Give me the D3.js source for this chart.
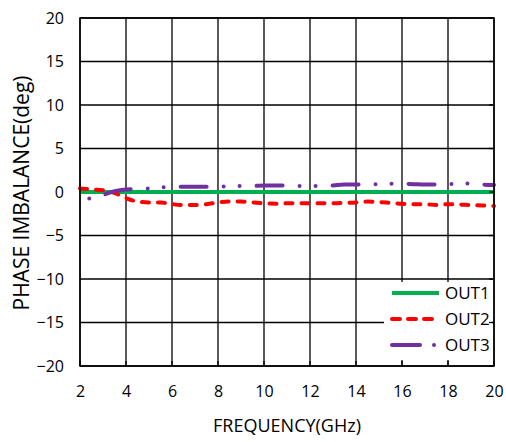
<!DOCTYPE html>
<html>
<head>
<meta charset="utf-8">
<script src="https://cdn.jsdelivr.net/npm/d3@7"></script>
<style>
	body { margin: 0; background: #fff; }
	text { font-family: 'Open Sans', 'Noto Sans', sans-serif; fill: #000; }
</style>
</head>
<body>
<div id="chart-area" style="width:506px;height:442px;"></div>
<script>
// frequency points (GHz)
const freq = [2, 2.5, 3, 3.5, 4, 4.5, 5, 5.5, 6, 6.5, 7, 7.5, 8, 8.5, 9, 9.5, 10, 10.5, 11, 11.5,
	12, 12.5, 13, 13.5, 14, 14.5, 15, 15.5, 16, 16.5, 17, 17.5, 18, 18.5, 19, 19.5, 20];

const out1 = [0, 0, 0, 0, 0, 0, 0, 0, 0, 0, 0, 0, 0, 0, 0, 0, 0, 0, 0, 0,
	0, 0, 0, 0, 0, 0, 0, 0, 0, 0, 0, 0, 0, 0, 0, 0, 0];

const out2 = [0.4, 0.3, 0.2, -0.1, -0.7, -1.1, -1.2, -1.2, -1.4, -1.5, -1.5, -1.4, -1.2, -1.1, -1.1, -1.2, -1.3, -1.35, -1.3, -1.3,
	-1.3, -1.3, -1.3, -1.25, -1.2, -1.1, -1.15, -1.25, -1.35, -1.4, -1.4, -1.5, -1.4, -1.45, -1.5, -1.55, -1.6];

const out3 = [0.3, -0.8, -0.35, 0.1, 0.3, 0.35, 0.4, 0.5, 0.6, 0.6, 0.6, 0.6, 0.6, 0.65, 0.7, 0.7, 0.75, 0.75, 0.75, 0.7,
	0.7, 0.7, 0.75, 0.85, 0.85, 0.85, 0.9, 0.95, 0.95, 0.9, 0.85, 0.85, 0.9, 1.0, 0.95, 0.85, 0.8];

const xTicks = [2, 4, 6, 8, 10, 12, 14, 16, 18, 20];
const yTicks = [-20, -15, -10, -5, 0, 5, 10, 15, 20];

const seriesNames = ['OUT1', 'OUT2', 'OUT3'];

const margin = { top: 18, right: 12, bottom: 76, left: 80 };
const width = 506 - margin.left - margin.right;
const height = 442 - margin.top - margin.bottom;

const svg = d3.select('#chart-area')
	.append('svg')
	.attr('width', 506)
	.attr('height', 442);

const g = svg.append('g')
	.attr('transform', `translate(${margin.left}, ${margin.top})`);

// Scales
const x = d3.scaleLinear().domain([2, 20]).range([0, width]);
const y = d3.scaleLinear().domain([-20, 20]).range([height, 0]);

// grid
g.append('g')
	.selectAll('line.vg')
	.data(xTicks)
	.enter().append('line')
	.attr('x1', d => x(d)).attr('x2', d => x(d))
	.attr('y1', 0).attr('y2', height)
	.attr('stroke', '#000').attr('stroke-width', 1.3);

g.append('g')
	.selectAll('line.hg')
	.data(yTicks)
	.enter().append('line')
	.attr('x1', 0).attr('x2', width)
	.attr('y1', d => y(d)).attr('y2', d => y(d))
	.attr('stroke', '#000').attr('stroke-width', 1.3);

// axes (labels only)
const bottomAxis = d3.axisBottom(x).tickValues(xTicks).tickSize(0).tickPadding(20);
g.append('g')
	.attr('transform', `translate(0, ${height})`)
	.call(bottomAxis)
	.call(a => a.select('.domain').remove())
	.selectAll('text')
	.style('font-size', '16px');

const leftAxis = d3.axisLeft(y).tickValues(yTicks).tickSize(0).tickPadding(16);
g.append('g')
	.call(leftAxis)
	.call(a => a.select('.domain').remove())
	.selectAll('text')
	.style('font-size', '16px');

// lines
const data = seriesNames.map((name, i) => ({
	name: name,
	values: freq.map((f, j) => ({ f: f, v: [out1, out2, out3][i][j] }))
}));

const line = d3.line()
	.x(d => x(d.f))
	.y(d => y(d.v))
	.curve(d3.curveMonotoneX);

const styles = {
	OUT1: { color: '#00b050', dash: null, offset: 0 },
	OUT2: { color: '#ff0000', dash: '7,9', offset: 0 },
	OUT3: { color: '#7030a0', dash: '26,17,0,16,0,17', offset: 46 }
};

g.selectAll('path.series')
	.data(data)
	.enter().append('path')
	.attr('class', 'series')
	.attr('d', d => line(d.values))
	.attr('fill', 'none')
	.attr('stroke', d => styles[d.name].color)
	.attr('stroke-width', 4)
	.attr('stroke-linecap', d => d.name === 'OUT1' ? 'butt' : 'round')
	.attr('stroke-dasharray', d => styles[d.name].dash)
	.attr('stroke-dashoffset', d => styles[d.name].offset);

// legend
const legend = g.append('g').attr('transform', `translate(${304}, ${264})`);
legend.append('rect')
	.attr('x', 0).attr('y', 0)
	.attr('width', width - 304 - 2).attr('height', 78)
	.attr('fill', '#fff');

const legendRows = legend.selectAll('g.row')
	.data(seriesNames)
	.enter().append('g')
	.attr('transform', (d, i) => `translate(0, ${11 + i * 26})`);

legendRows.append('line')
	.attr('x1', 8).attr('x2', 55)
	.attr('y1', 0).attr('y2', 0)
	.attr('stroke', d => styles[d].color)
	.attr('stroke-width', 4)
	.attr('stroke-linecap', d => d === 'OUT1' ? 'butt' : 'round')
	.attr('stroke-dasharray', d => d === 'OUT2' ? '8,8' : d === 'OUT3' ? '28,14,0,30' : null);

legendRows.append('text')
	.attr('x', 61).attr('y', 0)
	.attr('dy', '0.36em')
	.style('font-size', '17px')
	.text(d => d);

// frame
g.append('rect')
	.attr('width', width).attr('height', height)
	.attr('fill', 'none')
	.attr('stroke', '#000').attr('stroke-width', 1.5);

// small inside ticks peeking around the legend
g.append('g').selectAll('line.tb')
	.data(xTicks)
	.enter().append('line')
	.attr('x1', d => x(d)).attr('x2', d => x(d))
	.attr('y1', height).attr('y2', height - 5)
	.attr('stroke', '#000').attr('stroke-width', 1.3);
g.append('g').selectAll('line.tr')
	.data(yTicks)
	.enter().append('line')
	.attr('x1', width).attr('x2', width - 5)
	.attr('y1', d => y(d)).attr('y2', d => y(d))
	.attr('stroke', '#000').attr('stroke-width', 1.3);

// axis titles
svg.append('text')
	.attr('x', margin.left + width / 2)
	.attr('y', 432)
	.attr('text-anchor', 'middle')
	.style('font-size', '18px')
	.text('FREQUENCY(GHz)');

svg.append('text')
	.attr('transform', `translate(29, ${margin.top + height / 2 + 1}) rotate(-90)`)
	.attr('text-anchor', 'middle')
	.style('font-size', '21px')
	.text('PHASE IMBALANCE(deg)');
</script>
</body>
</html>
